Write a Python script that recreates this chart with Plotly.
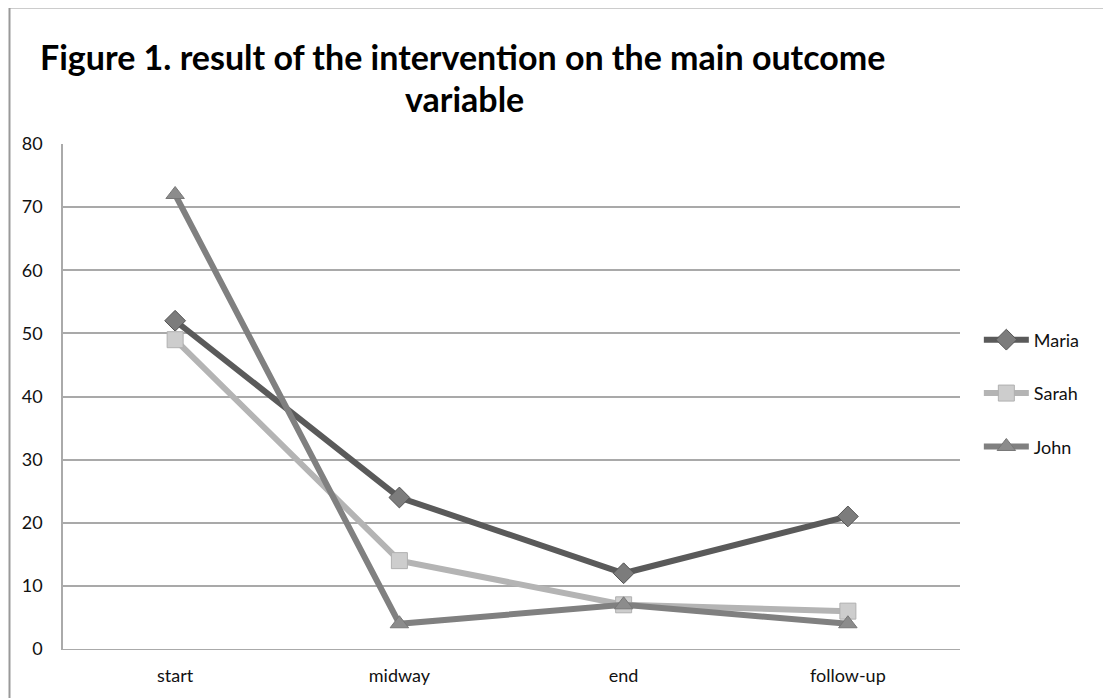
import plotly.graph_objects as go

categories = ["start", "midway", "end", "follow-up"]
maria = [52, 24, 12, 21]
sarah = [49, 14, 7, 6]
john = [72, 4, 7, 4]
y_ticks = [0, 10, 20, 30, 40, 50, 60, 70, 80]

FONT = "Lato, 'Open Sans', sans-serif"

# page body has an 8px margin; plot area target on screen: x 63-960, y 144-649
OFF = 8
L, R, T, B = 63 - OFF, 960 - OFF, 144 - OFF, 649 - OFF
PW, PH = R - L, B - T

def px(x):
    return (x - OFF - L) / PW

def py(y):
    return (B - (y - OFF)) / PH

fig = go.Figure()

series = [
    ("Maria", maria, "#5a5a5a", "diamond", "#7c7c7c", "#555555"),
    ("Sarah", sarah, "#b4b4b4", "square", "#cdcdcd", "#b0b0b0"),
    ("John", john, "#808080", "triangle-up", "#8c8c8c", "#777777"),
]
for i, (name, vals, lc, sym, mc, ml) in enumerate(series):
    fig.add_trace(go.Scatter(
        x=categories, y=vals, name=name, mode="lines+markers",
        legendgroup=f"g{i}",
        line=dict(color=lc, width=6),
        marker=dict(symbol=sym, size=16, color=mc, line=dict(color=ml, width=1)),
    ))

fig.update_layout(
    width=1111, height=698,
    margin=dict(l=L, r=1111 - R, t=T, b=698 - B),
    paper_bgcolor="white", plot_bgcolor="white",
    showlegend=True,
    legend=dict(x=1.021, y=0.506, xanchor="left", yanchor="middle",
                font=dict(family=FONT, size=18, color="#111"),
                tracegroupgap=27, itemwidth=45, bgcolor="rgba(0,0,0,0)"),
    font=dict(family=FONT, color="#111"),
    xaxis=dict(type="category", categoryorder="array", categoryarray=categories,
               range=[-0.5, 3.5], showgrid=False, showline=True, linecolor="#aaaaaa",
               linewidth=1, ticks="", tickfont=dict(family=FONT, size=18, color="#111"),
               ticklabelstandoff=10, zeroline=False),
    yaxis=dict(range=[0, 80], tickvals=y_ticks, showgrid=True, gridcolor="#a9a9a9",
               gridwidth=1.5, showline=True, linecolor="#aaaaaa", linewidth=1.5,
               ticks="", tickfont=dict(family=FONT, size=18, color="#111"),
               ticklabelstandoff=15, zeroline=False),
    annotations=[
        dict(text="<b>Figure 1. result of the intervention on the main outcome</b>",
             xref="paper", yref="paper", x=px(462), y=py(56),
             xanchor="center", yanchor="middle", showarrow=False,
             font=dict(family=FONT, size=34, color="#000")),
        dict(text="<b>variable</b>",
             xref="paper", yref="paper", x=px(464), y=py(99),
             xanchor="center", yanchor="middle", showarrow=False,
             font=dict(family=FONT, size=34, color="#000")),
    ],
    shapes=[
        dict(type="rect", xref="paper", yref="paper",
             x0=px(9.5), y0=-0.3, x1=1.3, y1=py(7.5),
             line=dict(color="#999999", width=2), layer="below"),
    ],
)

fig.write_html("out.html")
